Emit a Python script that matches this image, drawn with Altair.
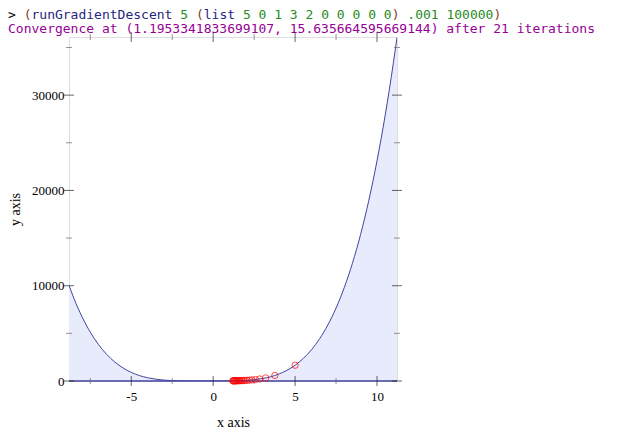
import altair as alt
import pandas as pd

# sampled curve of f(x) read along the plotted function
curve_x = [-8.8, -8.5, -8.0, -7.5, -7.0, -6.5, -6.0, -5.5, -5.0, -4.5, -4.0, -3.5, -3.0,
           -2.5, -2.0, -1.5, -1.0, -0.5, 0.0, 0.5, 1.0, 1.5, 2.0, 2.5, 3.0, 3.5, 4.0,
           4.5, 5.0, 5.5, 6.0, 6.5, 7.0, 7.5, 8.0, 8.5, 9.0, 9.5, 10.0, 10.5, 11.0, 11.22]
curve_y = [10031.9, 8675.0, 6725, 5123.8, 3827, 2793.5, 1985, 1366.3, 905, 572.0, 341,
           188.8, 95, 42.5, 17, 7.25, 5, 5.0, 5, 5.75, 11, 27.5, 65, 136.3, 257, 446.0,
           725, 1118.8, 1655, 2364.5, 3281, 4441.3, 5885, 7655.0, 9797, 12359.8, 15395,
           18957.5, 23105, 27898.3, 33401, 36064.1]

# gradient descent iterates
gd_x = [5.0, 3.765, 3.203, 2.841, 2.580, 2.377, 2.214, 2.079, 1.964, 1.865, 1.778, 1.701,
        1.632, 1.570, 1.514, 1.463, 1.416, 1.372, 1.332, 1.295, 1.260, 1.227, 1.196]
gd_y = [1655, 581.2, 324.4, 212.2, 151.8, 114.8, 90.6, 73.7, 61.4, 52.2, 45.0, 39.4,
        34.9, 31.2, 28.2, 25.7, 23.6, 21.7, 20.2, 18.8, 17.6, 16.6, 15.64]

x_major = [-5, 0, 5, 10]
x_minor = [-7.5, -2.5, 2.5, 7.5]
y_major = [0, 10000, 20000, 30000]
y_minor = [5000, 15000, 25000, 35000]

W, H = 328, 344
xs = alt.Scale(domain=[-8.8, 11.22], nice=False, zero=False)
ys = alt.Scale(domain=[0, 36100], nice=False, zero=False)

LINE = "#4343a0"
SERIF = "Liberation Serif"

x_axis = alt.Axis(
    values=x_major, labelExpr="'' + datum.value", ticks=False, tickSize=0,
    domain=False, grid=False, labelFont=SERIF, labelFontSize=13, labelColor="black",
    labelPadding=9, title="x axis", titleFont=SERIF, titleFontSize=14,
    titleFontWeight="normal", titleColor="black", titlePadding=12)
y_axis = alt.Axis(
    values=y_major, labelExpr="'' + datum.value", ticks=False, tickSize=0,
    domain=False, grid=False, labelFont=SERIF, labelFontSize=13, labelColor="black",
    labelPadding=5, title="y axis", titleFont=SERIF, titleFontSize=14,
    titleFontWeight="normal", titleColor="black", titlePadding=9)

curve_df = pd.DataFrame({"x": curve_x, "y": curve_y})
gd_df = pd.DataFrame({"x": gd_x, "y": gd_y})

area = alt.Chart(curve_df).mark_area(color="#e8ebfc", interpolate="monotone", clip=True).encode(
    x=alt.X("x:Q", scale=xs, axis=x_axis),
    y=alt.Y("y:Q", scale=ys, axis=y_axis),
)

line = alt.Chart(curve_df).mark_line(color=LINE, strokeWidth=1, interpolate="monotone", clip=True).encode(
    x=alt.X("x:Q", scale=xs, axis=x_axis),
    y=alt.Y("y:Q", scale=ys, axis=y_axis),
)

base_line = alt.Chart(pd.DataFrame({"z": [0]})).mark_rule(color=LINE, strokeWidth=1.5).encode(
    y=alt.Y("z:Q", scale=ys, axis=y_axis)
)

points = alt.Chart(gd_df).mark_point(shape="circle", filled=False, color="#ff0000",
                                     size=40, strokeWidth=1).encode(
    x=alt.X("x:Q", scale=xs, axis=x_axis),
    y=alt.Y("y:Q", scale=ys, axis=y_axis),
)


def xticks(vals, size, color, ypos):
    return alt.Chart(pd.DataFrame({"v": vals})).mark_tick(
        orient="vertical", size=size, thickness=1, color=color).encode(
        x=alt.X("v:Q", scale=xs, axis=x_axis), y=alt.value(ypos))


def yticks(vals, size, color, xpos):
    return alt.Chart(pd.DataFrame({"v": vals})).mark_tick(
        orient="horizontal", size=size, thickness=1, color=color).encode(
        y=alt.Y("v:Q", scale=ys, axis=y_axis), x=alt.value(xpos))


ticks = [
    xticks(x_major, 10, "#222222", H), xticks(x_minor, 6, "#666666", H),
    xticks(x_major, 10, "#222222", 0), xticks(x_minor, 6, "#666666", 0),
    yticks(y_major, 10, "#222222", 0), yticks(y_minor, 6, "#666666", 0),
    yticks(y_major, 10, "#222222", W), yticks(y_minor, 6, "#666666", W),
]

# REPL text lines
PAREN = "#843c24"
SYM = "#262680"
CONST = "#298a26"
segments1 = [
    (0, ">", "#000000"), (2, "(", PAREN), (3, "runGradientDescent", SYM), (22, "5", CONST),
    (24, "(", PAREN), (25, "list", SYM), (30, "5 0 1 3 2 0 0 0 0 0", CONST), (49, ")", PAREN),
    (51, ".001 100000", CONST), (62, ")", PAREN),
]
line2 = "Convergence at (1.1953341833699107, 15.635664595669144) after 21 iterations"
CW = 7.83
X0 = 8 - 69
texts = []
for idx, txt, col in segments1:
    texts.append(alt.Chart(pd.DataFrame({"t": [txt]})).mark_text(
        align="left", baseline="middle", font="DejaVu Sans Mono", fontSize=13, color=col).encode(
        text="t:N", x=alt.value(X0 + idx * CW), y=alt.value(-22)))
texts.append(alt.Chart(pd.DataFrame({"t": [line2]})).mark_text(
    align="left", baseline="middle", font="DejaVu Sans Mono", fontSize=13, color="#960096").encode(
    text="t:N", x=alt.value(X0), y=alt.value(-8.5)))

chart = alt.layer(area, line, base_line, *ticks, points, *texts).properties(
    width=W, height=H,
    autosize=alt.AutoSizeParams(type="none"),
    padding={"left": 61, "top": 29, "right": 228, "bottom": 50},
).configure_view(stroke="#a8a8a8", strokeWidth=1.5).configure(background="white")

chart.save("out.html", embed_options={"renderer": "svg", "actions": False})
